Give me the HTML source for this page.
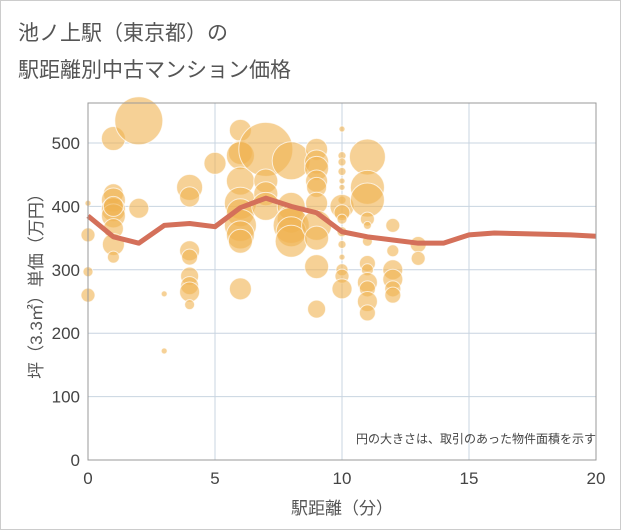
<!DOCTYPE html>
<html><head><meta charset="utf-8"><style>
body{margin:0;background:#fff;}
svg{display:block;font-family:"Liberation Sans","Noto Sans CJK JP",sans-serif;}
</style></head><body>
<svg id="c" width="621" height="530" viewBox="0 0 621 530">
<rect x="0.5" y="0.5" width="620" height="529" fill="#fff" stroke="#ccc"/>
<text x="18" y="40" font-size="21" fill="#555">池ノ上駅（東京都）の</text>
<text x="18" y="77" font-size="21" fill="#555">駅距離別中古マンション価格</text>
<g id="grid"></g>
<g id="bubbles"></g>
<g id="line"></g>
<g id="axes"></g>
<text x="596" y="443" font-size="12" fill="#444" text-anchor="end">円の大きさは、取引のあった物件面積を示す</text>
<text x="342" y="514" font-size="17" fill="#555" text-anchor="middle">駅距離（分）</text>
<text transform="translate(42,282) rotate(-90)" font-size="17" fill="#555" text-anchor="middle">坪（3.3㎡）単価（万円）</text>
</svg>
<script>
const xTicks=[0,5,10,15,20];
const yTicks=[0,100,200,300,400,500];
const lineX=[0,1,2,3,4,5,6,7,8,9,10,11,12,13,14,15,16,17,18,19,20];
const lineY=[385,352,342,370,373,368,398,413,400,390,360,352,347,342,342,355,358,357,356,355,353];
const bubX=[0,0,0,0,1,1,1,1,1,1,1,1,1,2,2,3,3,4,4,4,4,4,4,4,4,5,6,6,6,6,6,6,6,6,6,6,7,7,7,7,8,8,8,8,8,8,9,9,9,9,9,9,9,9,9,9,10,10,10,10,10,10,10,10,10,10,10,10,10,10,10,10,11,11,11,11,11,11,11,11,11,11,11,11,12,12,12,12,12,12,13,13];
const bubY=[405,355,297,260,507,420,410,395,385,365,340,320,400,535,397,262,172,430,415,330,320,290,275,265,245,468,520,485,480,440,405,390,370,355,345,270,490,440,420,400,472,400,380,370,360,345,490,470,460,440,430,405,370,350,305,238,522,480,470,455,440,430,410,400,390,380,360,340,320,300,290,270,478,430,410,380,370,345,310,300,280,270,250,232,370,330,300,285,270,260,340,318];
const bubR=[3,7,5,7,12,10,12,12,12,10,11,6,10,24,10,3,3,13,10,10,8,9,9,10,5,11,11,12,14,14,16,14,16,14,12,11,27,12,12,14,19,14,14,18,15,16,11,12,12,11,10,11,15,12,12,9,3,4,4,4,3,3,4,12,8,5,5,4,3,6,7,10,18,17,17,7,4,5,8,6,10,8,10,8,7,6,10,10,8,8,8,7];
const L=88,R=596,T=103,B=460;
const sx=v=>L+(v-0)/(20-0)*(R-L);
const sy=v=>B-(v/500)*(B-143);
const NS="http://www.w3.org/2000/svg";
function mk(t,a,p){const e=document.createElementNS(NS,t);for(const k in a)e.setAttribute(k,a[k]);p.appendChild(e);return e;}
const g=document.getElementById('grid');
xTicks.forEach(v=>{const e=mk('line',{x1:sx(v),x2:sx(v),y1:T,y2:B,stroke:'#c8d4e0','stroke-width':1},g);

});
yTicks.forEach(v=>{const e=mk('line',{x1:L,x2:R,y1:sy(v),y2:sy(v),stroke:'#c8d4e0','stroke-width':1},g);

});
const bg=document.getElementById('bubbles');
bubX.forEach((x,i)=>{const c=mk('circle',{cx:sx(x),cy:sy(bubY[i]),r:bubR[i],fill:'rgba(240,178,80,0.6)',stroke:'rgba(255,255,255,0.7)','stroke-width':1},bg);

});
const lg=document.getElementById('line');
const pl=mk('polyline',{points:lineX.map((x,i)=>sx(x)+','+sy(lineY[i])).join(' '),fill:'none',stroke:'#d4705a','stroke-width':5,'stroke-linejoin':'round'},lg);


const ax=document.getElementById('axes');
const fr=mk('rect',{x:L,y:T,width:R-L,height:B-T,fill:'none',stroke:'#999','stroke-width':1},ax);


xTicks.forEach(v=>{const t=mk('text',{x:sx(v),y:B+24,'font-size':17,fill:'#444','text-anchor':'middle'},ax);t.textContent=v;

});
yTicks.forEach(v=>{const t=mk('text',{x:L-8,y:sy(v)+6,'font-size':17,fill:'#444','text-anchor':'end'},ax);t.textContent=v;

});
</script>
</body></html>
